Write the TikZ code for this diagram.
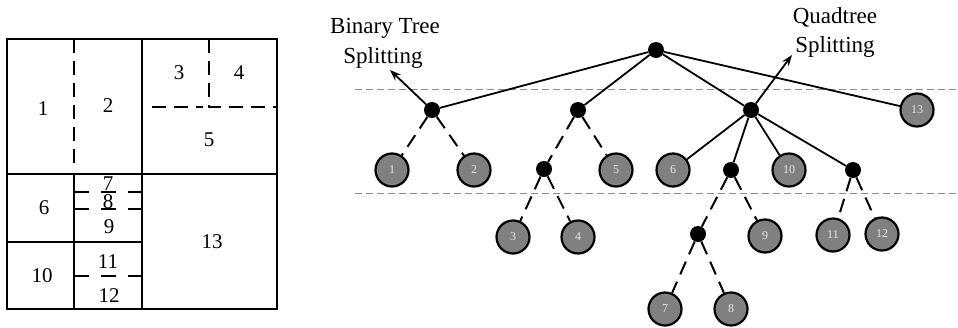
\documentclass[tikz,border=0pt]{standalone}
\usepackage{fontspec}
\setmainfont{Liberation Serif}
\usetikzlibrary{arrows.meta}
\definecolor{leafgray}{RGB}{128,128,128}
\definecolor{leaftext}{RGB}{228,228,228}
\definecolor{levelgray}{RGB}{140,140,140}
\begin{document}
\begin{tikzpicture}[x=1pt,y=-1pt,
  cell/.style={line width=2pt},
  cut/.style={line width=2pt, dash pattern=on 14pt off 8pt},
  subcut/.style={line width=2pt, dash pattern=on 15pt off 12pt},
  lbl/.style={font=\fontsize{21}{21}\selectfont, inner sep=0pt},
  leaf/.style={circle, draw=black, line width=2.2pt, fill=leafgray, minimum size=33pt,
    inner sep=0pt, font=\fontsize{12}{12}\selectfont, text=leaftext},
  split/.style={circle, fill=black, minimum size=16pt, inner sep=0pt},
  edge/.style={line width=1.8pt},
  dedge/.style={line width=2pt, dash pattern=on 14pt off 8pt},
  level/.style={line width=1pt, draw=levelgray, dash pattern=on 7pt off 4pt},
  head/.style={font=\fontsize{23}{23}\selectfont, inner sep=0pt, anchor=base},
  pointer/.style={line width=1.8pt, -{Stealth[length=11pt,width=8pt]}},
]
\useasboundingbox (0,0) rectangle (958,327);

% ---- partition of the block ----
\draw[cell] (7,39) rectangle (277,309);
\draw[cell] (142,39) -- (142,309);
\draw[cell] (7,174) -- (277,174);
\draw[cell] (74,174) -- (74,309);
\draw[cell] (7,242) -- (142,242);
\draw[cut] (74,39) -- (74,163);
\draw[cut] (209,39) -- (209,107) -- (277,107);
\draw[cut] (152,107) -- (203,107);
\draw[subcut] (74,192) -- (142,192);
\draw[subcut] (74,209) -- (142,209);
\draw[subcut] (74,276) -- (142,276);

\node[lbl] (c1) at (43,109) {1};
\node[lbl] (c2) at (108,106) {2};
\node[lbl] (c3) at (179,73) {3};
\node[lbl] (c4) at (239,73) {4};
\node[lbl] (c5) at (209,140) {5};
\node[lbl] (c6) at (44,208) {6};
\node[lbl] (c7) at (108,184) {7};
\node[lbl] (c8) at (108,202) {8};
\node[lbl] (c9) at (109,227) {9};
\node[lbl] (c10) at (42,276) {10};
\node[lbl] (c11) at (108,262) {11};
\node[lbl] (c12) at (109,296) {12};
\node[lbl] (c13) at (212,242) {13};

% ---- depth guides ----
\draw[level] (355,89) -- (958,89);
\draw[level] (355,193) -- (958,193);

% ---- tree ----
\node[split] (root) at (656,50) {};
\node[split] (bt) at (432,110) {};
\node[split] (bm) at (578,110) {};
\node[split] (qt) at (751,110) {};
\node[leaf] (n13) at (917,110) {13};
\node[leaf] (n1) at (392,170) {1};
\node[leaf] (n2) at (474,170) {2};
\node[split] (b34) at (544,169) {};
\node[leaf] (n5) at (616,170) {5};
\node[leaf] (n6) at (673,170) {6};
\node[split] (q789) at (731,170) {};
\node[leaf] (n10) at (789,170) {10};
\node[split] (q1112) at (853,170) {};
\node[leaf] (n3) at (513,237) {3};
\node[leaf] (n4) at (578,237) {4};
\node[split] (b78) at (698,234) {};
\node[leaf] (n9) at (765,236) {9};
\node[leaf] (n11) at (833,235) {11};
\node[leaf] (n12) at (882,234) {12};
\node[leaf] (n7) at (665,309) {7};
\node[leaf] (n8) at (731,309) {8};

\draw[edge] (root) -- (bt);
\draw[edge] (root) -- (bm);
\draw[edge] (root) -- (qt);
\draw[edge] (root) -- (n13);
\draw[dedge] (bt) -- (n1);
\draw[dedge] (bt) -- (n2);
\draw[dedge] (bm) -- (b34);
\draw[dedge] (bm) -- (n5);
\draw[dedge] (b34) -- (n3);
\draw[dedge] (b34) -- (n4);
\draw[edge] (qt) -- (n6);
\draw[edge] (qt) -- (q789);
\draw[edge] (qt) -- (n10);
\draw[edge] (qt) -- (q1112);
\draw[dedge] (q789) -- (b78);
\draw[dedge] (q789) -- (n9);
\draw[dedge] (b78) -- (n7);
\draw[dedge] (b78) -- (n8);
\draw[dedge] (q1112) -- (n11);
\draw[dedge] (q1112) -- (n12);

% ---- annotations ----
\node[head] (btA) at (385,33) {Binary Tree};
\node[head] (btB) at (383,63) {Splitting};
\node[head] (qtA) at (835,23) {Quadtree};
\node[head] (qtB) at (835,52) {Splitting};
\coordinate (btTip) at (390,70);
\coordinate (qtTip) at (792,55);
\draw[pointer] (bt) -- (btTip);
\draw[pointer] (qt) -- (qtTip);
\end{tikzpicture}
\end{document}
